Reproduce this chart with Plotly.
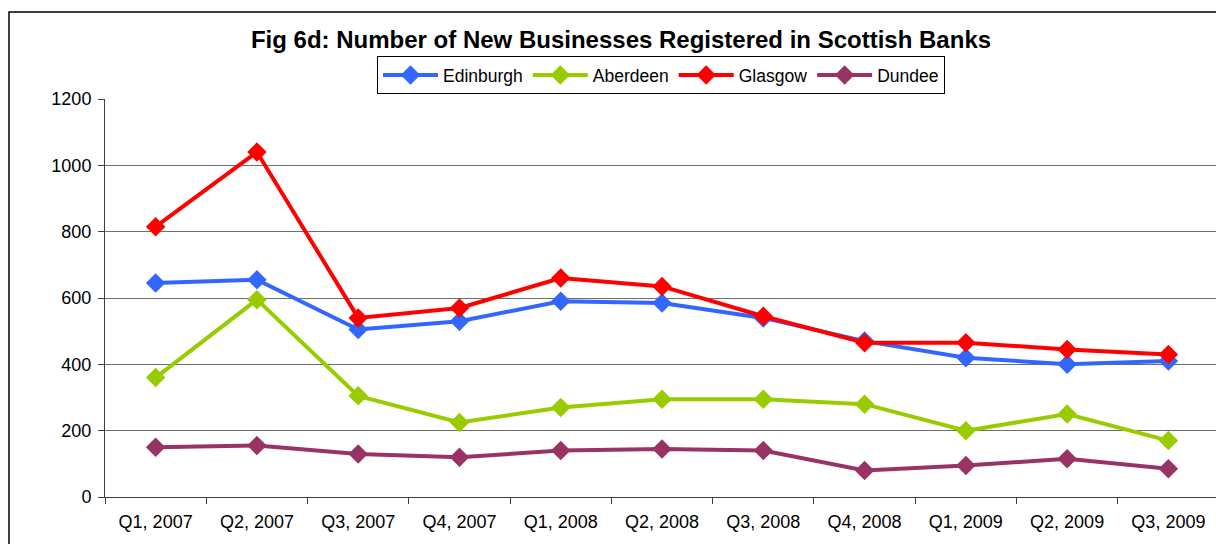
import plotly.graph_objects as go

categories = ["Q1, 2007", "Q2, 2007", "Q3, 2007", "Q4, 2007", "Q1, 2008", "Q2, 2008",
              "Q3, 2008", "Q4, 2008", "Q1, 2009", "Q2, 2009", "Q3, 2009"]
edinburgh = [645, 655, 505, 530, 590, 585, 540, 470, 420, 400, 410]
aberdeen = [360, 595, 305, 225, 270, 295, 295, 280, 200, 250, 170]
glasgow = [815, 1040, 540, 570, 660, 635, 545, 465, 465, 445, 430]
dundee = [150, 155, 130, 120, 140, 145, 140, 80, 95, 115, 85]

series = [
    ("Edinburgh", edinburgh, "#3366FF"),
    ("Aberdeen", aberdeen, "#99CC00"),
    ("Glasgow", glasgow, "#FF0000"),
    ("Dundee", dundee, "#993366"),
]

fig = go.Figure()
for name, vals, color in series:
    fig.add_trace(go.Scatter(
        x=categories, y=vals, name=name, mode="lines+markers",
        line=dict(color=color, width=4),
        marker=dict(symbol="diamond", size=15, color=color),
    ))

font_family = "Liberation Sans, Arial, sans-serif"
fig.update_layout(
    width=1216, height=544,
    margin=dict(l=105, r=0, t=99, b=47),
    paper_bgcolor="white", plot_bgcolor="white",
    font=dict(family=font_family, size=18, color="black"),
    title=dict(text="<b>Fig 6d: Number of New Businesses Registered in Scottish Banks</b>",
               x=621 / 1216, xanchor="center", y=1 - 40 / 544, yanchor="middle",
               font=dict(size=24, family=font_family, color="black")),
    legend=dict(orientation="h", x=(661 - 105) / 1111, xanchor="center", y=1 + (99 - 75) / 398,
                yanchor="middle",
                bordercolor="black", borderwidth=1, font=dict(size=17.5),
                itemwidth=55, tracegroupgap=0),
    showlegend=True,
    xaxis=dict(range=[-0.5, 10.47], showgrid=False, showline=True, linecolor="#404040", linewidth=1,
               ticks="outside", tickson="boundaries", ticklen=6, tickcolor="#404040",
               zeroline=False, tickfont=dict(size=18), ticklabelstandoff=8),
    yaxis=dict(range=[0, 1200], dtick=200, showgrid=True, gridcolor="#6e6e6e", gridwidth=1,
               showline=True, linecolor="#404040", linewidth=1, ticks="outside", ticklen=6,
               tickcolor="#404040", zeroline=False, tickfont=dict(size=18), ticklabelstandoff=3),
)

fig.add_shape(type="rect", xref="paper", yref="paper",
              x0=(9 - 105) / 1111, x1=1.5, y0=-0.5, y1=1 + (99 - 12) / 398,
              line=dict(color="black", width=1.5), fillcolor="rgba(0,0,0,0)", layer="below")

fig.write_html("out.html")
